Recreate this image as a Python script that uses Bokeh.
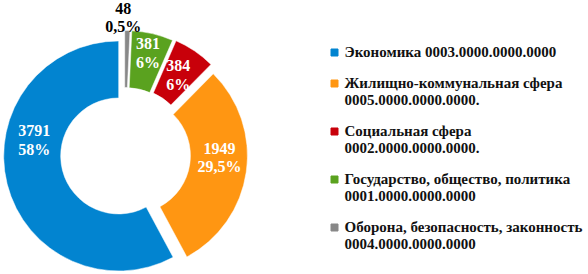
import math
from bokeh.plotting import figure
from bokeh.models import Range1d, ColumnDataSource
from bokeh.core.properties import value
from bokeh.embed import file_html
from bokeh.resources import INLINE

# ---- data ----
categories = [
    "Экономика 0003.0000.0000.0000",
    "Жилищно-коммунальная сфера\n0005.0000.0000.0000.",
    "Социальная сфера\n0002.0000.0000.0000.",
    "Государство, общество, политика\n0001.0000.0000.0000",
    "Оборона, безопасность, законность\n0004.0000.0000.0000",
]
values = [3791, 1949, 384, 381, 48]
pct_labels = ["58%", "29,5%", "6%", "6%", "0,5%"]

# ---- styles ----
colors = ["#0284D0", "#FF9612", "#C8000A", "#5AA21F", "#888888"]
label_colors = ["white", "white", "white", "white", "black"]
explode = [6, 8, 10, 9, 9]          # px offset along mid angle
label_r = [86, 87, 86, 95, 128]     # label distance from slice center
label_shift = [-25, 7, 0, 0, 2]     # degrees
W, H = 588, 274
CX, CY = 124, H - 154
R_OUT, R_IN = 115, 58
FONT = "Liberation Serif"

total = sum(values)
starts, ends, xs, ys, lx, ly, texts = [], [], [], [], [], [], []
cum = 0.0
for i, v in enumerate(values):
    a0 = math.pi / 2 + 2 * math.pi * cum / total
    cum += v
    a1 = math.pi / 2 + 2 * math.pi * cum / total
    mid = (a0 + a1) / 2
    cx = CX + explode[i] * math.cos(mid)
    cy = CY + explode[i] * math.sin(mid)
    starts.append(a0)
    ends.append(a1)
    xs.append(cx)
    ys.append(cy)
    la = mid + math.radians(label_shift[i])
    lx.append(cx + label_r[i] * math.cos(la))
    ly.append(cy + label_r[i] * math.sin(la))
    texts.append(f"{v}\n{pct_labels[i]}")

src = ColumnDataSource(dict(x=xs, y=ys, start=starts, end=ends, color=colors,
                            lx=lx, ly=ly, text=texts, tcolor=label_colors))

p = figure(width=W, height=H, x_range=Range1d(0, W), y_range=Range1d(0, H),
           output_backend="svg", toolbar_location=None, min_border=0)
p.axis.visible = False
p.grid.visible = False
p.outline_line_color = None

p.annular_wedge(x="x", y="y", inner_radius=R_IN, outer_radius=R_OUT,
                start_angle="start", end_angle="end", color="color",
                line_color="white", line_width=0.5, source=src)

p.text(x="lx", y="ly", text="text", text_color="tcolor", source=src,
       text_align="center", text_baseline="middle",
       text_font=value(FONT), text_font_style="bold", text_font_size="16px",
       text_line_height=1.1)

# ---- legend ----
LX, LY0 = 334, H - 52
leg_x, leg_y, leg_ty = [], [], []
y = LY0
for c in categories:
    n = c.count("\n") + 1
    leg_x.append(LX)
    leg_y.append(y)
    leg_ty.append(y + 9)
    y -= n * 17 + 14
lsrc = ColumnDataSource(dict(x=leg_x, y=leg_y, ty=leg_ty, tx=[LX + 10] * len(categories),
                             text=categories, color=colors))
p.scatter(x="x", y="y", marker="square", size=7, color="color", source=lsrc)
p.text(x="tx", y="ty", text="text", source=lsrc, text_color="#111111",
       text_align="left", text_baseline="top",
       text_font=value(FONT), text_font_style="bold", text_font_size="15px",
       text_line_height=1.1)

open("out.html", "w").write(file_html(p, INLINE))
